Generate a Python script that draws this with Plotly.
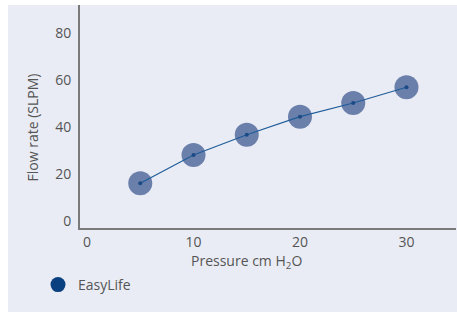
import plotly.graph_objects as go

pressure = [5, 10, 15, 20, 25, 30]
flow = [16.3, 28.3, 36.9, 44.6, 50.4, 57.1]
series_name = "EasyLife"
x_ticks = [0, 10, 20, 30]
y_ticks = [0, 20, 40, 60, 80]

# figure sits at page offset (8, 5)
W, H = 449, 307
L, R, T, B = 72, 1, 0, 84
pw, ph = W - L - R, H - T - B
BG = "#e9ecf4"
TXT = "#555555"
FONT = "Open Sans"
FS = 14

fig = go.Figure()
fig.add_trace(go.Scatter(x=pressure, y=flow, mode="markers",
                         marker=dict(size=24, color="#6b7fab"),
                         showlegend=False, hoverinfo="skip"))
fig.add_trace(go.Scatter(x=pressure, y=flow, mode="lines+markers",
                         line=dict(color="#1f5c99", width=1.2),
                         marker=dict(size=4, color="#1b4a85"),
                         showlegend=False))
fig.add_trace(go.Scatter(x=[None], y=[None], mode="markers", name=series_name,
                         marker=dict(size=15, color="#0b4080")))

fig.add_annotation(text="Pressure cm H<sub>2</sub>O", xref="x", yref="paper",
                   x=15, y=-(256 - ph) / ph,
                   showarrow=False, font=dict(family=FONT, size=FS, color=TXT),
                   xanchor="center", yanchor="middle")
fig.add_annotation(text="Flow rate (SLPM)", xref="paper", yref="y",
                   x=(24 - L) / pw, y=40, textangle=-90,
                   showarrow=False, font=dict(family=FONT, size=FS, color=TXT),
                   xanchor="center", yanchor="middle")

fig.update_layout(
    width=W, height=H,
    margin=dict(l=L, r=R, t=T, b=B, pad=0),
    paper_bgcolor=BG, plot_bgcolor=BG,
    font=dict(family=FONT, size=FS, color=TXT),
    legend=dict(x=(30 - L) / pw, y=-(264 - ph) / ph, xanchor="left", yanchor="top",
                bgcolor="rgba(0,0,0,0)", font=dict(family=FONT, size=FS, color=TXT)),
)
fig.update_xaxes(range=[-0.66, 34.65], tickvals=x_ticks, showgrid=False, zeroline=False,
                 showline=True, linecolor="#7a7a7a", linewidth=2, ticks="",
                 ticklabelstandoff=0, tickfont=dict(family=FONT, size=FS, color=TXT))
fig.update_yaxes(range=[-2.77, 92.1], tickvals=y_ticks, showgrid=False, zeroline=False,
                 showline=True, linecolor="#7a7a7a", linewidth=2, ticks="",
                 ticklabelstandoff=4, tickfont=dict(family=FONT, size=FS, color=TXT))

fig.write_html("out.html",
               post_script="document.body.style.margin='5px 0 0 8px';")
